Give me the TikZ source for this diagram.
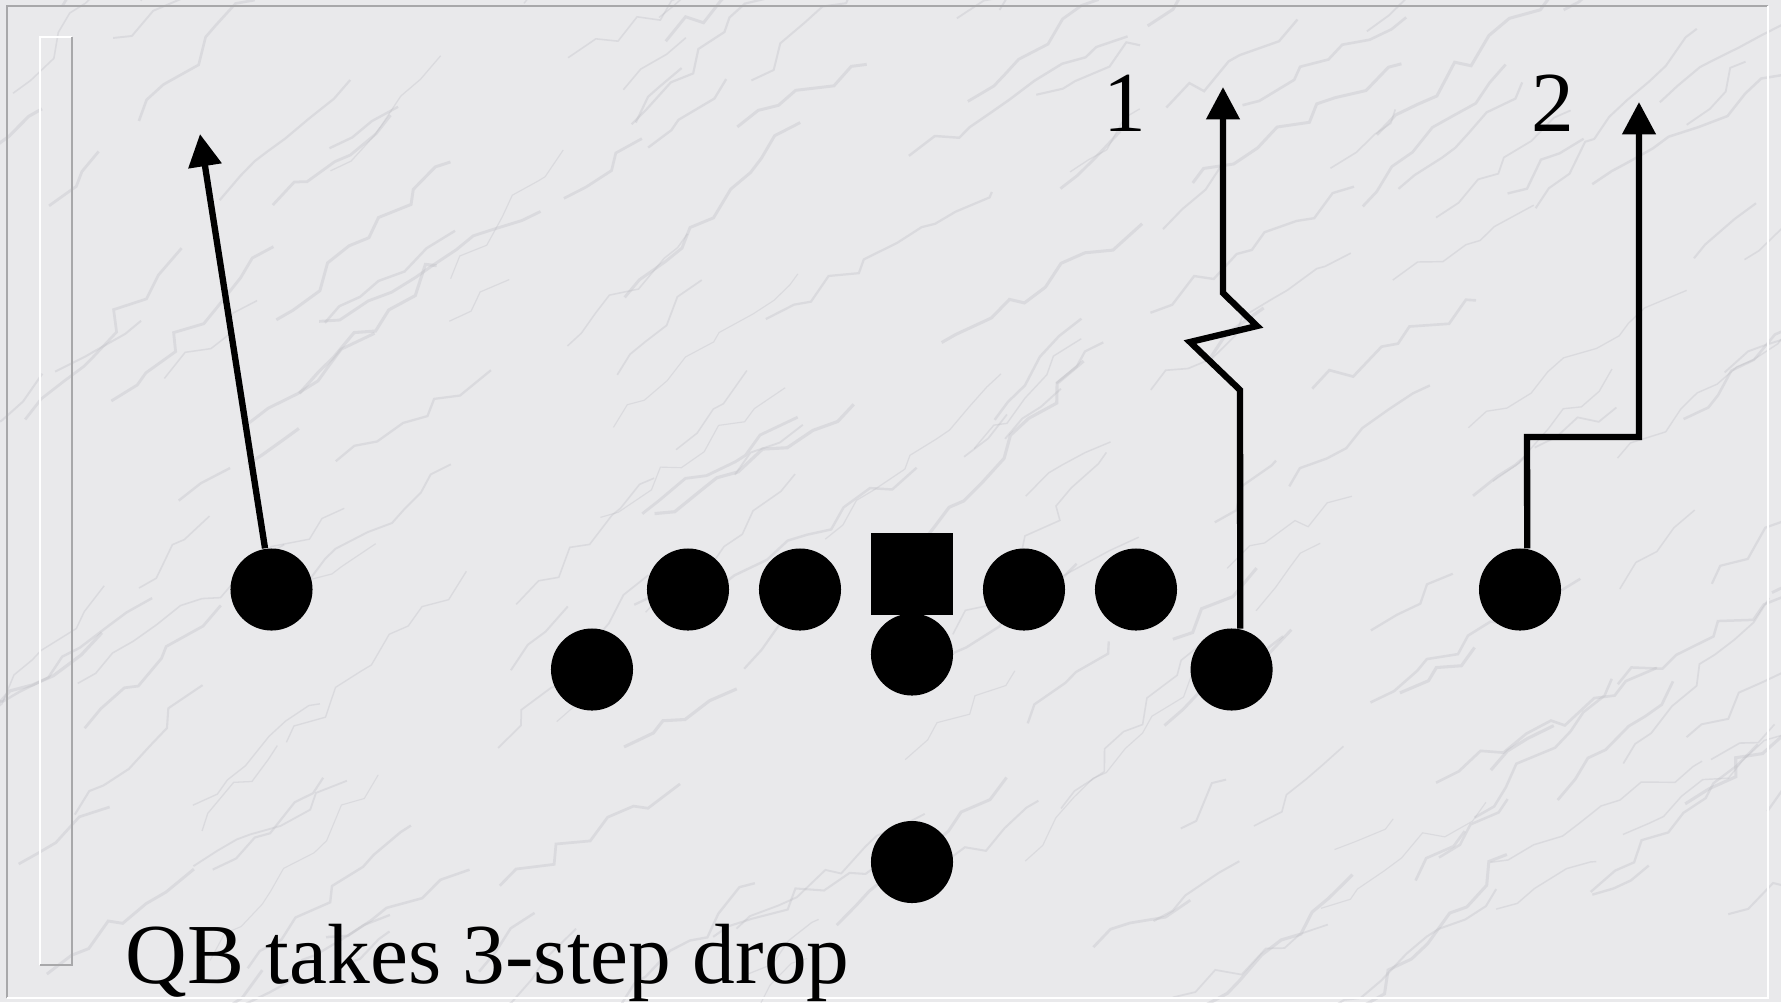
\documentclass[tikz,border=0pt]{standalone}
\usepackage{fontspec}
\setmainfont{Liberation Serif}
\usetikzlibrary{arrows.meta,decorations.pathmorphing}
\definecolor{marble}{RGB}{233,233,235}
\definecolor{vein}{RGB}{185,185,192}
\definecolor{framegray}{RGB}{168,168,170}
\begin{document}
\begin{tikzpicture}[x=0.01cm,y=-0.01cm,
  player/.style={circle,fill=black,minimum size=0.82cm,inner sep=0pt},
  centerbox/.style={rectangle,fill=black,minimum size=0.82cm,inner sep=0pt},
  route/.style={line width=1.8pt,line join=miter,-{Triangle[length=9.2pt,width=9.2pt]}},
  lbl/.style={font=\fontsize{24.3}{28}\selectfont,inner sep=0pt}
]
\useasboundingbox (0,0) rectangle (1781,1002);
\fill[marble] (0,0) rectangle (1781,1002);
\begin{scope}
  \clip (0,0) rectangle (1781,1002);
  \pgfmathsetseed{12}
  \foreach \i in {1,...,200}{
    \pgfmathsetmacro\sx{rnd*1900-60}
    \pgfmathsetmacro\sy{rnd*1100-50}
    \pgfmathsetmacro\ang{25+rnd*25}
    \pgfmathsetmacro\len{60+rnd*200}
    \pgfmathsetmacro\lw{0.3+rnd*0.6}
    \draw[vein,opacity=0.3,line width=\lw pt,decorate,
      decoration={random steps,segment length=7pt,amplitude=2.5pt}]
      (\sx,\sy) -- ++({\len*cos(\ang)},{-\len*sin(\ang)});
  }
\end{scope}
% frame
\draw[framegray,line width=0.8pt] (7,998) -- (7,6) -- (1768,6);
\draw[white,line width=0.8pt] (7,998) -- (1768,998) -- (1768,6);
\draw[white,line width=0.6pt] (40,965) -- (40,37) -- (72,37);
\draw[framegray,line width=0.6pt] (40,965) -- (72,965) -- (72,37);
% players
\node[player] (wrl) at (271.5,589.5) {};
\node[player] (lt) at (688,589.5) {};
\node[player] (lg) at (800,589.5) {};
\node[centerbox] (c) at (912,574) {};
\node[player] (rg) at (1024,589.5) {};
\node[player] (rt) at (1136,589.5) {};
\node[player] (tel) at (592,669.5) {};
\node[player] (qb) at (912,654.5) {};
\node[player] (ter) at (1231.6,669.5) {};
\node[player] (wrr) at (1520,589.5) {};
\node[player] (rb) at (912,862) {};
% routes
\coordinate (tipl) at (200,134);
\draw[route] (wrl) -- (tipl);
\coordinate (tip1) at (1223,87);
\draw[route] (ter.78) -- (1240,390) -- (1190,342) -- (1257,326) -- (1223,293) -- (tip1);
\coordinate (tip2) at (1639,102);
\draw[route] (wrr.80) -- (1527,437) -- (1639,437) -- (tip2);
% labels
\node[lbl,anchor=base] (l1) at (1125,131) {1};
\node[lbl,anchor=base] (l2) at (1553,131) {2};
\node[lbl,anchor=base west] (cap) at (125,983) {QB takes 3-step drop};
\end{tikzpicture}
\end{document}
